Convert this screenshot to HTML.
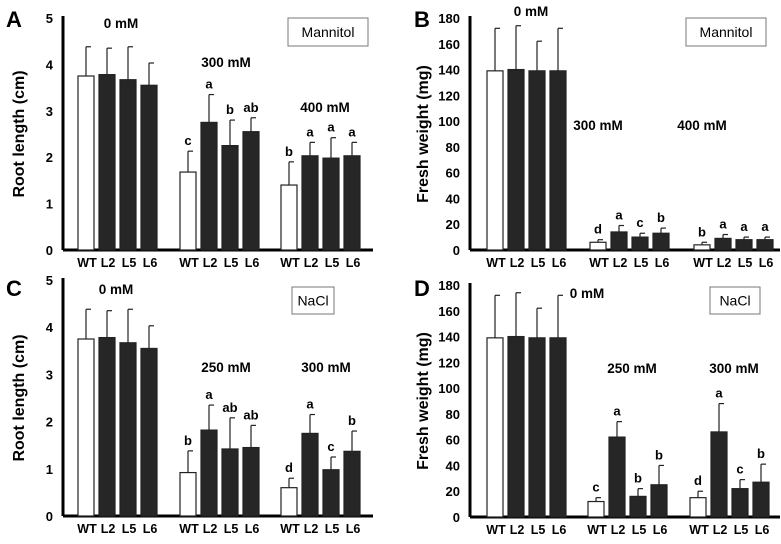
<!DOCTYPE html>
<html><head><meta charset="utf-8"><style>
body{margin:0;background:#fff;width:781px;height:539px;overflow:hidden}
svg text{font-family:"Liberation Sans",Arial,sans-serif}
</style></head><body>
<svg id="c" width="781" height="539"></svg>
<script>
const categories=["WT","L2","L5","L6"];
const aVals=[[3.75,3.78,3.67,3.55],[1.68,2.75,2.25,2.55],[1.4,2.03,1.98,2.03]];
const aErr=[[4.38,4.35,4.38,4.03],[2.13,3.35,2.8,2.85],[1.9,2.32,2.42,2.32]];
const aLet=[null,["c","a","b","ab"],["b","a","a","a"]];
const bVals=[[139,140,139,139],[6,14,10,13],[4,9,8,8]];
const bErr=[[172,174,162,172],[8,19,13,17],[6,12,10,10]];
const bLet=[null,["d","a","c","b"],["b","a","a","a"]];
const cVals=[[3.75,3.78,3.67,3.55],[0.92,1.82,1.42,1.45],[0.6,1.75,0.98,1.37]];
const cErr=[[4.38,4.35,4.38,4.03],[1.38,2.35,2.08,1.92],[0.8,2.15,1.25,1.8]];
const cLet=[null,["b","a","ab","ab"],["d","a","c","b"]];
const dVals=[[139,140,139,139],[12,62,16,25],[15,66,22,27]];
const dErr=[[172,174,162,172],[15,74,22,40],[20,88,29,41]];
const dLet=[null,["c","a","b","b"],["d","a","c","b"]];
const rootTicks=[0,1,2,3,4,5];
const fwTicks=[0,20,40,60,80,100,120,140,160,180];

const svg=document.getElementById('c');
const NS="http://www.w3.org/2000/svg";
function el(t,a,txt){const e=document.createElementNS(NS,t);for(const k in a)e.setAttribute(k,a[k]);if(txt!==undefined)e.textContent=txt;svg.appendChild(e);return e;}

function panel(p){
  const y=v=>p.base-(v/p.max)*(p.base-p.top);
  let e;
  e=el('text',{x:p.lx,y:p.ly,'font-size':22,'font-weight':'bold'},p.letter);
  
  e=el('line',{x1:p.ax,y1:p.top-2,x2:p.ax,y2:p.base,stroke:'#000','stroke-width':3});
  
  e=el('line',{x1:p.ax,y1:p.base,x2:p.ax+310,y2:p.base,stroke:'#000','stroke-width':3});
  
  p.ticks.forEach(t=>{
    e=el('text',{x:p.ax-10,y:y(t)+5,'font-size':13,'font-weight':'bold','text-anchor':'end'},t);
    
  });
  e=el('text',{x:0,y:0,'font-size':16,'font-weight':'bold','text-anchor':'middle',transform:`translate(${p.tx},${(p.top+p.base)/2}) rotate(-90)`},p.ytitle);
  
  p.vals.forEach((g,gi)=>{
    const sx=p.gx[gi];
    g.forEach((v,i)=>{
      const x=sx+i*21, w=16;
      e=el('line',{x1:x+w/2,y1:y(v),x2:x+w/2,y2:y(p.err[gi][i]),stroke:'#222','stroke-width':1.2});
      
      e=el('line',{x1:x+w/2,y1:y(p.err[gi][i]),x2:x+w/2+5,y2:y(p.err[gi][i]),stroke:'#222','stroke-width':1.2});
      
      e=el('rect',{x:x,y:y(v),width:w,height:p.base-y(v),fill:i==0?'#fff':'#262626',stroke:'#222','stroke-width':1.2});
      
      e=el('text',{x:x+w/2+1,y:p.base+17,'font-size':12.5,'font-weight':'bold','text-anchor':'middle'},categories[i]);
      
      if(p.lets[gi]){
        e=el('text',{x:x+w/2,y:y(p.err[gi][i])-6,'font-size':13,'font-weight':'bold','text-anchor':'middle'},p.lets[gi][i]);
        
      }
    });
  });
  p.glabels.forEach(g=>{
    e=el('text',{x:g[0],y:g[1],'font-size':13.5,'font-weight':'bold','text-anchor':'middle'},g[2]);
    
  });
  const b=p.box;
  e=el('rect',{x:b[0],y:b[1],width:b[2],height:b[3],fill:'#fff',stroke:'#777','stroke-width':1});
  
  e=el('text',{x:b[0]+b[2]/2,y:b[1]+b[3]/2+5,'font-size':14,'text-anchor':'middle'},b[4]);
  
}
panel({letter:'A',lx:6,ly:27,ax:63,top:18,base:250,max:5,ticks:rootTicks,tx:24,ytitle:'Root length (cm)',
 vals:aVals,err:aErr,lets:aLet,gx:[78,180,281],glabels:[[121,28,'0 mM'],[226,67,'300 mM'],[325,112,'400 mM']],box:[288,18,80,28,'Mannitol']});
panel({letter:'B',lx:414,ly:27,ax:470,top:18,base:250,max:180,ticks:fwTicks,tx:428,ytitle:'Fresh weight (mg)',
 vals:bVals,err:bErr,lets:bLet,gx:[487,590,694],glabels:[[531,16,'0 mM'],[598,130,'300 mM'],[702,130,'400 mM']],box:[686,18,80,28,'Mannitol']});
panel({letter:'C',lx:6,ly:296,ax:63,top:280,base:516,max:5,ticks:rootTicks,tx:24,ytitle:'Root length (cm)',
 vals:cVals,err:cErr,lets:cLet,gx:[78,180,281],glabels:[[116,294,'0 mM'],[226,372,'250 mM'],[326,372,'300 mM']],box:[292,287,42,27,'NaCl']});
panel({letter:'D',lx:414,ly:296,ax:470,top:285,base:517,max:180,ticks:fwTicks,tx:428,ytitle:'Fresh weight (mg)',
 vals:dVals,err:dErr,lets:dLet,gx:[487,588,690],glabels:[[587,298,'0 mM'],[632,373,'250 mM'],[734,373,'300 mM']],box:[710,287,50,27,'NaCl']});
</script>
</body></html>
